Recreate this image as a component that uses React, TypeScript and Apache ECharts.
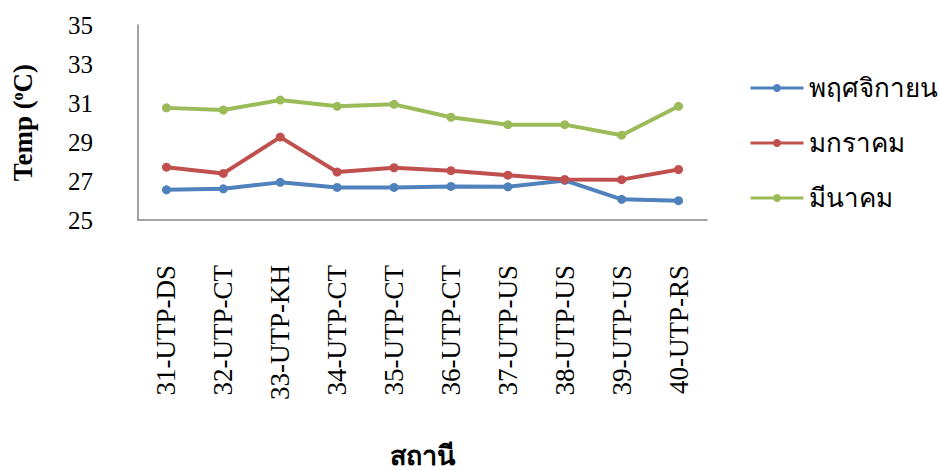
import React, { useEffect, useRef } from "react";
import * as echarts from "echarts";

const stations = [
  "31-UTP-DS", "32-UTP-CT", "33-UTP-KH", "34-UTP-CT", "35-UTP-CT",
  "36-UTP-CT", "37-UTP-US", "38-UTP-US", "39-UTP-US", "40-UTP-RS",
];
const november = [26.55, 26.6, 26.93, 26.67, 26.67, 26.72, 26.7, 27.03, 26.06, 25.99];
const january = [27.71, 27.39, 29.25, 27.46, 27.68, 27.53, 27.3, 27.08, 27.07, 27.59];
const march = [30.75, 30.64, 31.15, 30.83, 30.93, 30.27, 29.89, 29.89, 29.35, 30.83];
const seriesNames = ["พฤศจิกายน", "มกราคม", "มีนาคม"];
const colors = ["#4F81BD", "#C0504D", "#9BBB59"];

const FONT = "'Liberation Serif', 'Times New Roman', serif";

export default function App() {
  const ref = useRef<HTMLDivElement>(null);
  useEffect(() => {
    if (!ref.current) return;
    const chart = echarts.init(ref.current, null, { renderer: "svg" });
    const data = [november, january, march];
    chart.setOption({
      animation: false,
      textStyle: { fontFamily: FONT },
      grid: { left: 138, top: 25, right: 232, bottom: 243 },
      legend: {
        orient: "vertical",
        left: 749,
        top: 75,
        padding: 0,
        itemWidth: 53,
        itemHeight: 10,
        itemGap: 29,
        lineStyle: { width: 3 },
        textStyle: { fontSize: 26, color: "#000", fontFamily: FONT },
        data: seriesNames,
      },
      xAxis: {
        type: "category",
        data: stations,
        boundaryGap: true,
        axisLine: { lineStyle: { color: "#868686", width: 1.5 } },
        axisTick: { show: false },
        axisLabel: {
          rotate: 90,
          margin: 45,
          fontSize: 27,
          color: "#000",
          fontFamily: FONT,
          interval: 0,
        },
        name: "สถานี",
        nameLocation: "middle",
        nameGap: 222,
        nameTextStyle: { fontSize: 27, fontWeight: "bold", color: "#000", fontFamily: FONT },
      },
      yAxis: {
        type: "value",
        min: 25,
        max: 35,
        interval: 2,
        splitLine: { show: false },
        axisLine: { show: true, lineStyle: { color: "#868686", width: 1.5 } },
        axisTick: { show: false },
        axisLabel: { margin: 45, fontSize: 25, color: "#000", fontFamily: FONT },
        name: "Temp ({sup|o}C)",
        nameLocation: "middle",
        nameRotate: 90,
        nameGap: 102,
        nameTextStyle: {
          fontSize: 27,
          fontWeight: "bold",
          color: "#000",
          fontFamily: FONT,
          rich: {
            sup: {
              fontSize: 16,
              fontWeight: "bold",
              color: "#000",
              fontFamily: FONT,
              padding: [0, 0, 10, 0],
            },
          },
        },
      },
      series: data.map((d, i) => ({
        name: seriesNames[i],
        type: "line",
        data: d,
        symbol: "circle",
        symbolSize: 9,
        lineStyle: { width: 4, color: colors[i] },
        itemStyle: { color: colors[i] },
      })),
    });
    return () => chart.dispose();
  }, []);
  return <div ref={ref} style={{ width: 939, height: 470, position: "absolute", left: 0, top: 0 }} />;
}
